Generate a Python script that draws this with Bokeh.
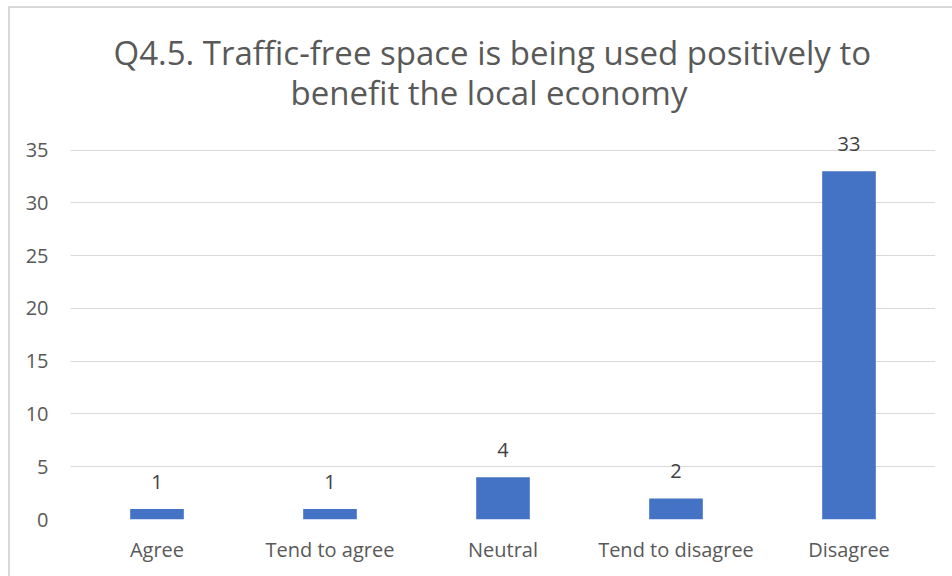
from bokeh.plotting import figure
from bokeh.models import ColumnDataSource, Title, SingleIntervalTicker, FactorRange, Range1d, LabelSet
from bokeh.core.properties import value
from bokeh.embed import file_html
from bokeh.resources import INLINE

categories = ["Agree", "Tend to agree", "Neutral", "Tend to disagree", "Disagree"]
counts = [1, 1, 4, 2, 33]
title_line1 = "Q4.5. Traffic-free space is being used positively to"
title_line2 = "benefit the local economy"

FONT = "Open Sans"
GRAY = "#595959"

src = ColumnDataSource(dict(cat=categories, val=counts, lab=[str(v) for v in counts]))

p = figure(x_range=FactorRange(*categories, range_padding=0), y_range=Range1d(0, 38),
           width=944, height=570, output_backend="svg", toolbar_location=None,
           min_border_left=60, min_border_right=19, min_border_bottom=59, min_border_top=110)
p.margin = (6, 0, 0, 8)
p.styles = {"border-top": "2px solid #d9d9d9", "border-left": "2px solid #d9d9d9", "box-sizing": "border-box"}
p.outline_line_color = None
p.background_fill_color = "white"
p.border_fill_color = "white"

p.vbar(x="cat", top="val", width=0.31, source=src, color="#4472C4", line_color=None)
p.add_layout(LabelSet(x="cat", y="val", text="lab", source=src, text_align="center",
                      text_baseline="bottom", y_offset=20, text_font=value(FONT),
                      text_font_size="20px", text_color="#404040"))

p.add_layout(Title(text=title_line2, align="left", offset=220, text_font=FONT, text_font_size="33px",
                   text_color=GRAY, text_font_style="normal", standoff=7), "above")
p.add_layout(Title(text=title_line1, align="left", offset=43, text_font=FONT, text_font_size="33px",
                   text_color=GRAY, text_font_style="normal", standoff=-20), "above")

p.yaxis.ticker = SingleIntervalTicker(interval=5)
for ax in (p.xaxis[0], p.yaxis[0]):
    ax.axis_line_color = None
    ax.major_tick_line_color = None
    ax.minor_tick_line_color = None
    ax.major_label_text_font = FONT
    ax.major_label_text_font_size = "20px"
    ax.major_label_text_color = GRAY
p.yaxis.major_label_standoff = 16
p.xaxis.major_label_standoff = 10
p.xgrid.grid_line_color = None
p.ygrid.grid_line_color = "#d9d9d9"
p.ygrid.grid_line_width = 1

open("out.html", "w").write(file_html(p, INLINE))
